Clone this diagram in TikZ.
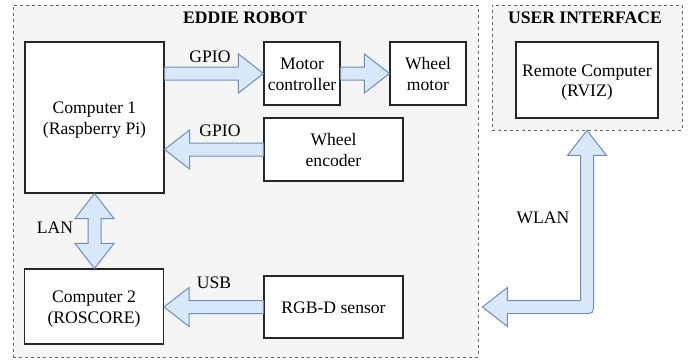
\documentclass[tikz,border=0pt]{standalone}
\usepackage{fontspec}
\setmainfont{Liberation Serif}
\usetikzlibrary{calc}
\definecolor{arrfill}{HTML}{DAE8FC}
\definecolor{arrline}{HTML}{6C8EBF}
\definecolor{grpfill}{HTML}{F5F5F5}
\definecolor{grpline}{HTML}{666666}
\def\fsw{6.5pt}\def\fhw{19.5pt}\def\fhl{25pt}
\newcommand\topst{\rule{0pt}{17.5pt}}
\newcommand\botst{\rule[-4.5pt]{0pt}{4.5pt}}
\newcommand\fatH[3]{\draw[fatarrow] let \p1=(#1),\p2=(#2) in
  ({\x1},{\y1+\fsw}) -- ({\x2-(#3)*\fhl},{\y1+\fsw}) -- ({\x2-(#3)*\fhl},{\y1+\fhw}) --
  ({\x2},{\y1}) -- ({\x2-(#3)*\fhl},{\y1-\fhw}) -- ({\x2-(#3)*\fhl},{\y1-\fsw}) --
  ({\x1},{\y1-\fsw}) -- cycle;}
\tikzset{
  txt/.style={font=\fontsize{17.6}{20.5}\selectfont, align=center, inner sep=0pt},
  box/.style={txt, draw=black!85, line width=1.1pt, fill=white},
  group/.style={draw=grpline, fill=grpfill, line width=0.8pt, dash pattern=on 3pt off 3pt, inner sep=0pt},
  grouptitle/.style={font=\fontsize{17.6}{20.5}\selectfont\bfseries, inner sep=0pt},
  fatarrow/.style={draw=arrline, fill=arrfill, line width=1pt, line join=miter},
}
\begin{document}
\begin{tikzpicture}[x=1pt,y=-1pt]
\useasboundingbox (0,0) rectangle (691,360);
% containers
\node[group, minimum width=465pt, minimum height=352pt] (robot) at (245.5,181) {};
\node[group, minimum width=190pt, minimum height=125pt] (ui) at (587,67.5) {};
\node[grouptitle] (robottitle) at (245,18) {EDDIE ROBOT};
\node[grouptitle] (uititle) at (585,18) {USER INTERFACE};
% boxes
\node[box, minimum width=139pt, minimum height=151pt] (c1) at (94.5,117.5) {\topst Computer 1\\(Raspberry Pi)\botst};
\node[box, minimum width=76pt, minimum height=63pt] (mc) at (302,73.5) {\topst Motor\\controller\botst};
\node[box, minimum width=76pt, minimum height=63pt] (wm) at (428,73.5) {\topst Wheel\\motor\botst};
\node[box, minimum width=139pt, minimum height=63pt] (we) at (333.5,149.5) {\topst Wheel\\encoder\botst};
\node[box, minimum width=142pt, minimum height=76pt] (rc) at (587,80) {\topst Remote Computer\\(RVIZ)\botst};
\node[box, minimum width=139pt, minimum height=75pt] (c2) at (94,306.5) {\topst Computer 2\\(ROSCORE)\botst};
\node[box, minimum width=139pt, minimum height=62pt] (rgb) at (333.5,307) {\topst RGB-D sensor\botst};
% arrows
\fatH{c1.east |- mc.west}{mc.west}{1}
\fatH{mc.east}{wm.west}{1}
\fatH{we.west}{c1.east |- we.west}{-1}
\fatH{rgb.west}{c2.east |- rgb.west}{-1}
% LAN double arrow
\draw[fatarrow] let \p1=(c1.south),\p2=(c1.south |- c2.north) in
  (\x1,\y1) -- ({\x1+\fhw},{\y1-\fhl}) -- ({\x1+\fsw},{\y1-\fhl}) -- ({\x1+\fsw},{\y2+\fhl}) --
  ({\x1+\fhw},{\y2+\fhl}) -- (\x1,\y2) -- ({\x1-\fhw},{\y2+\fhl}) -- ({\x1-\fsw},{\y2+\fhl}) --
  ({\x1-\fsw},{\y1-\fhl}) -- ({\x1-\fhw},{\y1-\fhl}) -- cycle;
% WLAN bent double arrow
\draw[fatarrow] let \p1=(ui.south),\p2=(robot.east |- rgb.west) in
  (\x1,\y1) -- ({\x1+\fhw},{\y1-\fhl}) -- ({\x1+\fsw},{\y1-\fhl}) --
  ({\x1+\fsw},{\y2-\fsw+10pt}) .. controls ({\x1+\fsw},{\y2-\fsw}) .. ({\x1+\fsw-10pt},{\y2-\fsw}) --
  ({\x2+4pt+\fhl},{\y2-\fsw}) -- ({\x2+4pt+\fhl},{\y2-\fhw}) -- ({\x2+4pt},{\y2}) --
  ({\x2+4pt+\fhl},{\y2+\fhw}) -- ({\x2+4pt+\fhl},{\y2+\fsw}) -- ({\x1-\fsw},{\y2+\fsw}) --
  ({\x1-\fsw},{\y1-\fhl}) -- ({\x1-\fhw},{\y1-\fhl}) -- cycle;
% labels
\node[txt] (l1) at (210,57) {GPIO};
\node[txt] (l2) at (220,131) {GPIO};
\node[txt] (l3) at (55,228) {LAN};
\node[txt] (l4) at (214,283) {USB};
\node[txt] (l5) at (543,218) {WLAN};
\end{tikzpicture}
\end{document}
